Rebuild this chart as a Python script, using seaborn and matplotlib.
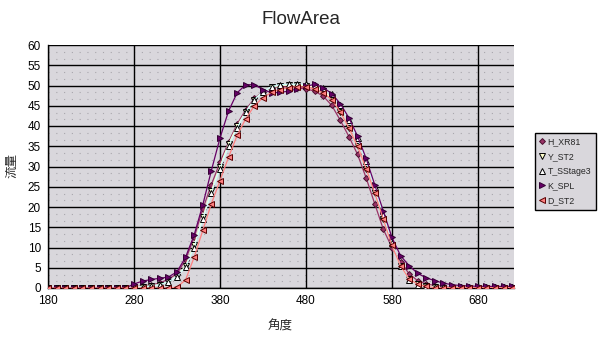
import matplotlib
matplotlib.use("Agg")
import matplotlib.pyplot as plt
from matplotlib.lines import Line2D
import numpy as np
import pandas as pd
import seaborn as sns

# crank angle positions (deg)
angle = list(range(180, 721, 10))

zeros10 = [0.0] * 10  # 180..270

h_xr81 = zeros10 + [0.3, 0.5, 0.8, 1.2, 2.2, 3.5, 7.0, 12.5, 19.5, 25.5,
                    31.0, 36.0, 40.5, 44.0, 46.8, 48.5, 49.5, 49.8, 49.6, 49.3,
                    49.2, 48.6, 47.4, 45.1, 41.4, 37.4, 33.0, 27.2, 20.8, 14.5,
                    10.0, 6.5, 3.5, 1.8, 1.0, 0.6, 0.4, 0.3, 0.2, 0.2,
                    0.2, 0.2, 0.2, 0.2, 0.2]
y_st2 = zeros10 + [0.2, 0.3, 0.5, 0.8, 1.5, 2.8, 5.5, 10.5, 17.5, 24.0,
                   30.0, 35.5, 40.0, 43.5, 46.5, 48.5, 49.6, 50.0, 50.1, 50.1,
                   50.0, 49.6, 48.7, 46.8, 43.5, 39.5, 35.0, 29.5, 23.5, 17.0,
                   10.5, 5.5, 2.2, 1.0, 0.5, 0.3, 0.1, 0.1, 0.1, 0.1,
                   0.1, 0.1, 0.1, 0.1, 0.1]
t_sstage3 = zeros10 + [0.2, 0.3, 0.5, 0.8, 1.5, 2.8, 5.2, 10.0, 17.0, 23.5,
                       29.5, 35.0, 39.5, 43.5, 46.5, 48.5, 49.7, 50.2, 50.3, 50.3,
                       50.3, 50.1, 49.4, 47.8, 45.1, 41.5, 37.0, 31.3, 25.0, 18.0,
                       11.0, 5.5, 2.0, 0.8, 0.4, 0.2, 0.2, 0.2, 0.2, 0.2,
                       0.2, 0.2, 0.2, 0.2, 0.2]
k_spl = zeros10 + [1.0, 1.7, 2.1, 2.4, 2.7, 4.0, 7.6, 13.1, 20.5, 29.0,
                   37.0, 43.7, 48.2, 50.2, 50.2, 49.0, 48.2, 48.3, 48.6, 49.2,
                   49.8, 50.3, 49.5, 48.0, 45.5, 42.0, 37.5, 32.0, 25.5, 19.0,
                   12.5, 8.0, 5.5, 3.6, 2.5, 1.8, 1.2, 0.8, 0.6, 0.5,
                   0.4, 0.4, 0.4, 0.4, 0.4]
d_st2 = zeros10 + [0.0, 0.0, 0.0, 0.0, 0.0, 0.2, 2.0, 7.6, 14.2, 20.8,
                   26.5, 32.3, 37.7, 41.8, 45.0, 47.0, 48.3, 49.0, 49.5, 49.7,
                   49.6, 49.2, 48.2, 46.5, 43.5, 39.5, 35.0, 29.5, 23.5, 17.0,
                   10.5, 5.5, 2.2, 0.9, 0.4, 0.1, 0.1, 0.1, 0.1, 0.1,
                   0.1, 0.1, 0.1, 0.1, 0.1]

names = ["H_XR81", "Y_ST2", "T_SStage3", "K_SPL", "D_ST2"]
values = [h_xr81, y_st2, t_sstage3, k_spl, d_st2]
xticks = [180, 280, 380, 480, 580, 680]

styles = {
    "H_XR81":    dict(line="#993366", marker="D", face="#993366", edge="#4a1030", ms=3.0),
    "Y_ST2":     dict(line="#FFFFCC", marker="v", face="#FFFFCC", edge="#000000", ms=3.8),
    "T_SStage3": dict(line="#CCFFFF", marker="^", face="#FFFFFF", edge="#000000", ms=3.8),
    "K_SPL":     dict(line="#660066", marker=">", face="#660066", edge="#330033", ms=3.8),
    "D_ST2":     dict(line="#FF8080", marker="<", face="#FF8080", edge="#5a0000", ms=3.8),
}

df = pd.DataFrame({"角度": angle * len(names),
                   "流量": sum(values, []),
                   "series": sum([[n] * len(angle) for n in names], [])})

sns.set_style("white")
plt.rcParams["font.family"] = ["Liberation Sans", "Noto Sans CJK JP", "DejaVu Sans"]

fig = plt.figure(figsize=(6.08, 3.37), dpi=100)
ax = fig.add_axes([48 / 608, 49 / 337, 466 / 608, 243 / 337])
ax.set_facecolor("#d9d7dc")

# subtle dotted background texture
for yv in np.arange(0, 60, 5):
    for off in (5 / 3, 10 / 3):
        ax.axhline(yv + off, color="#a9a7ad", lw=0.8, ls=(0, (1, 6)), zorder=0)

for n in names:
    s = styles[n]
    sub = df[df["series"] == n]
    sns.lineplot(data=sub, x="角度", y="流量", ax=ax, color=s["line"], lw=0.9,
                 marker=s["marker"], markersize=s["ms"], markerfacecolor=s["face"],
                 markeredgecolor=s["edge"], markeredgewidth=0.7, legend=False,
                 zorder=3)

ax.set_xlim(180, 722)
ax.set_ylim(0, 60)
ax.set_xticks(xticks)
ax.set_yticks(np.arange(0, 61, 5))
ax.grid(True, color="black", lw=1.0, zorder=1)
ax.set_axisbelow(True)
for side in ("top", "right"):
    ax.spines[side].set_visible(False)
for side in ("left", "bottom"):
    ax.spines[side].set_color("black")
    ax.spines[side].set_linewidth(1.0)
ax.tick_params(axis="both", direction="out", length=3, width=1, colors="black",
               labelsize=8.5, pad=2)

ax.set_xlabel("角度", fontsize=9, family=["Noto Sans CJK JP", "DejaVu Sans"])
ax.set_ylabel("流量", fontsize=9, family=["Noto Sans CJK JP", "DejaVu Sans"])
ax.xaxis.set_label_coords((280 - 48) / 466, -(320 - 288) / 243)
ax.yaxis.set_label_coords(-(48 - 18) / 466, (288 - 165) / 243)
fig.text(301 / 608, 1 - 20 / 337, "FlowArea", ha="center", va="center", fontsize=13.5)

handles = [Line2D([], [], ls="none", marker=styles[n]["marker"],
                  markersize=styles[n]["ms"], markerfacecolor=styles[n]["face"],
                  markeredgecolor=styles[n]["edge"], markeredgewidth=0.7)
           for n in names]
leg = fig.legend(handles, names, loc="upper left",
                 bbox_to_anchor=(535 / 608, 1 - 133 / 337), fontsize=6.3,
                 frameon=True, fancybox=False, edgecolor="black",
                 facecolor="#d9d7dc", framealpha=1, handlelength=0.6,
                 handletextpad=0.35, borderpad=0.5, borderaxespad=0,
                 labelspacing=0.65)
leg.get_frame().set_linewidth(1.0)

fig.savefig("out.png", dpi=100)
